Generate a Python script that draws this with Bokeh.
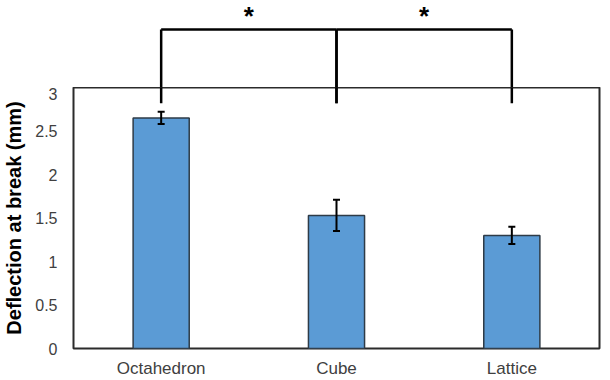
from bokeh.plotting import figure
from bokeh.layouts import column
from bokeh.models import (ColumnDataSource, FactorRange, Range1d, FixedTicker,
                          Whisker, TeeHead)
from bokeh.embed import file_html
from bokeh.resources import INLINE
from bokeh.core.properties import value

# ---- data ----
categories = ["Octahedron", "Cube", "Lattice"]
means = [2.65, 1.53, 1.30]
errors = [0.07, 0.18, 0.10]
y_ticks = [0, 0.5, 1, 1.5, 2, 2.5, 3]
y_tick_labels = ["0", "0.5", "1", "1.5", "2", "2.5", "3"]
sig_pairs = [("Octahedron", "Cube"), ("Cube", "Lattice")]
sig_marks = ["*", "*"]

# ---- style / layout constants ----
FONT = "Liberation Sans"
AXIS_COLOR = "#2b2b2b"
BAR_FILL = "#5B9BD5"
BAR_LINE = "#2E3B47"
Y_MAX = 3
TOP_MAX = 3.99
BRACKET_Y = 3.66
BRACKET_DROP = 2.82
STAR_Y = 3.81
W = 610
TOP_H = 87
MAIN_H = 293
LEFT = 73
RIGHT = 11

src = ColumnDataSource(dict(
    cat=categories,
    mean=means,
    upper=[m + e for m, e in zip(means, errors)],
    lower=[m - e for m, e in zip(means, errors)],
))

xr = FactorRange(*categories, range_padding=0)

# ---------- main chart ----------
p = figure(x_range=xr, y_range=Range1d(0, Y_MAX),
           width=W, height=MAIN_H,
           output_backend="svg", toolbar_location=None,
           min_border_left=LEFT, min_border_right=RIGHT,
           min_border_top=0, min_border_bottom=30)
p.outline_line_color = AXIS_COLOR
p.outline_line_width = 2
p.grid.grid_line_color = None

p.vbar(x="cat", top="mean", width=0.32, source=src,
       fill_color=BAR_FILL, line_color=BAR_LINE, line_width=1.5)

whisker = Whisker(source=src, base="cat", upper="upper", lower="lower",
                  line_color="black", line_width=2, level="overlay",
                  upper_head=TeeHead(size=7, line_color="black", line_width=2),
                  lower_head=TeeHead(size=7, line_color="black", line_width=2))
p.add_layout(whisker)

ya = p.yaxis[0]
ya.ticker = FixedTicker(ticks=y_ticks)
ya.major_label_overrides = {t: l for t, l in zip(y_ticks, y_tick_labels)}
ya.major_tick_line_color = None
ya.minor_tick_line_color = None
ya.major_tick_out = 0
ya.minor_tick_out = 0
ya.major_tick_in = 0
ya.axis_line_color = None
ya.major_label_text_font = FONT
ya.major_label_text_font_size = "16px"
ya.major_label_text_color = "#404040"
ya.major_label_standoff = 16
ya.axis_label = "Deflection at break (mm)"
ya.axis_label_text_font = FONT
ya.axis_label_text_font_style = "bold"
ya.axis_label_text_font_size = "20px"
ya.axis_label_text_color = "black"
ya.axis_label_standoff = 7

xa = p.xaxis[0]
xa.major_tick_line_color = None
xa.minor_tick_line_color = None
xa.major_tick_out = 0
xa.major_tick_in = 0
xa.axis_line_color = None
xa.major_label_text_font = FONT
xa.major_label_text_font_size = "17px"
xa.major_label_text_color = "#404040"
xa.major_label_standoff = 10

# lower part of bracket drops (inside the chart frame)
drop_x = [c for pair in sig_pairs for c in pair]
p.segment(x0=drop_x, y0=[Y_MAX + 0.05] * len(drop_x), x1=drop_x,
          y1=[BRACKET_DROP] * len(drop_x), line_color="black", line_width=2.5)

# ---------- significance strip above ----------
t = figure(x_range=xr, y_range=Range1d(Y_MAX, TOP_MAX),
           width=W, height=TOP_H,
           x_axis_type=None, y_axis_type=None,
           output_backend="svg", toolbar_location=None,
           min_border_left=LEFT, min_border_right=RIGHT,
           min_border_top=0, min_border_bottom=0)
t.outline_line_color = None
t.grid.grid_line_color = None

for a, b in sig_pairs:
    t.segment(x0=[a], y0=[BRACKET_Y], x1=[b], y1=[BRACKET_Y],
              line_color="black", line_width=2.5)
    t.segment(x0=[a, b], y0=[BRACKET_Y, BRACKET_Y], x1=[a, b],
              y1=[Y_MAX - 0.05, Y_MAX - 0.05], line_color="black", line_width=2.5)

star_x = [(a, 0.5) for a, b in sig_pairs]
t.text(x=star_x, y=[STAR_Y] * len(star_x), text=sig_marks,
       text_font=value(FONT), text_font_style="bold", text_font_size="26px",
       text_align="center", text_baseline="alphabetic", text_color="black")

layout = column(t, p, spacing=0)
open("out.html", "w").write(file_html(layout, INLINE))
